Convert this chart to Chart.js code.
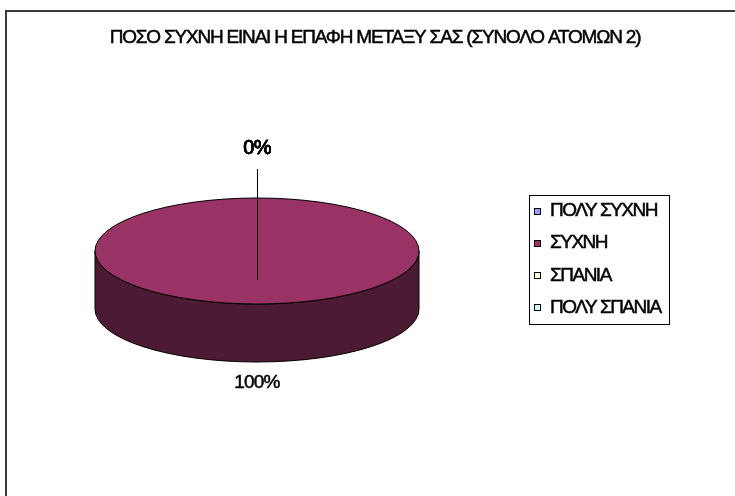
<!DOCTYPE html>
<html>
<head>
<meta charset="utf-8">
<script src="https://cdn.jsdelivr.net/npm/chart.js@4.4.0/dist/chart.umd.min.js"></script>
<style>
  html, body { margin: 0; padding: 0; background: #fff; overflow: hidden; }
  #frame { position: absolute; left: 5px; top: 10px; width: 760px; height: 520px;
           border-left: 2px solid #3c3c3c; border-top: 2px solid #3c3c3c; }
  #wrap { position: absolute; left: 0; top: 0; width: 735px; height: 496px; }
</style>
</head>
<body>
<div id="frame"></div>
<div id="wrap"><canvas id="piechart"></canvas></div>
<script>
const title_text = "ΠΟΣΟ ΣΥΧΝΗ ΕΙΝΑΙ Η ΕΠΑΦΗ ΜΕΤΑΞΥ ΣΑΣ (ΣΥΝΟΛΟ ΑΤΟΜΩΝ 2)";
const categories = ["ΠΟΛΥ ΣΥΧΝΗ", "ΣΥΧΝΗ", "ΣΠΑΝΙΑ", "ΠΟΛΥ ΣΠΑΝΙΑ"];
const answers = [0, 2, 0, 0];
const slice_colors = ["#9999ff", "#993366", "#ffffcc", "#ccffff"];

const FAMILY = "'Liberation Sans', Arial, sans-serif";
const TILT = 53 / 162;   // squash of the pie top
const DEPTH = 58;        // thickness of the pie

function darken(hex) {
  const n = parseInt(hex.slice(1), 16);
  const r = Math.round(((n >> 16) & 255) / 2);
  const g = Math.round(((n >> 8) & 255) / 2);
  const b = Math.round((n & 255) / 2);
  return "rgb(" + r + "," + g + "," + b + ")";
}

// tight, heavy text like the old office charts
function tightText(ctx, text, x, y, spacing) {
  ctx.save();
  ctx.letterSpacing = spacing + "px";
  ctx.lineWidth = 0.5;
  ctx.strokeStyle = ctx.fillStyle;
  ctx.fillText(text, x, y);
  ctx.strokeText(text, x, y);
  ctx.restore();
}

const pie3d = {
  id: "pie3d",
  beforeDatasetsDraw(chart) {
    const ctx = chart.ctx;
    const arcs = chart.getDatasetMeta(0).data;
    // front walls first
    arcs.forEach((arc, i) => {
      const s = arc.startAngle, e = arc.endAngle;
      if (e - s <= 0) return;
      const ry = arc.outerRadius * TILT;
      [-2 * Math.PI, 0, 2 * Math.PI].forEach(n => {
        const lo = Math.max(s, n), hi = Math.min(e, n + Math.PI);
        if (hi <= lo) return;
        ctx.beginPath();
        ctx.ellipse(arc.x, arc.y, arc.outerRadius, ry, 0, lo, hi);
        ctx.ellipse(arc.x, arc.y + DEPTH, arc.outerRadius, ry, 0, hi, lo, true);
        ctx.closePath();
        ctx.fillStyle = darken(slice_colors[i]);
        ctx.fill();
        ctx.lineWidth = 1;
        ctx.strokeStyle = "#000";
        ctx.stroke();
      });
    });
    // top face gets squashed
    const a = arcs[0];
    ctx.save();
    ctx.translate(a.x, a.y);
    ctx.scale(1, TILT);
    ctx.translate(-a.x, -a.y);
  },
  afterDatasetsDraw(chart) {
    const ctx = chart.ctx;
    ctx.restore();
    const arcs = chart.getDatasetMeta(0).data;
    const total = answers.reduce((p, v) => p + v, 0);
    arcs.forEach(arc => {
      const s = arc.startAngle, e = arc.endAngle;
      if (e - s <= 0) return;
      ctx.beginPath();
      ctx.ellipse(arc.x, arc.y, arc.outerRadius, arc.outerRadius * TILT, 0, s, e);
      if (e - s < 2 * Math.PI - 1e-6) { ctx.lineTo(arc.x, arc.y); ctx.closePath(); }
      ctx.lineWidth = 1;
      ctx.strokeStyle = "#000";
      ctx.stroke();
    });
    // percentage labels
    ctx.fillStyle = "#000";
    ctx.textAlign = "center";
    ctx.textBaseline = "middle";
    arcs.forEach((arc, i) => {
      const mid = (arc.startAngle + arc.endAngle) / 2;
      const c = Math.cos(mid), sn = Math.sin(mid);
      const ry = arc.outerRadius * TILT;
      const gap = answers[i] === 0 ? 50 : 21;
      const lx = arc.x + (arc.outerRadius + gap) * c;
      const ly = arc.y + (ry + gap) * sn + (sn > 0 ? DEPTH : 0);
      if (answers[i] === 0) {
        ctx.beginPath();
        ctx.moveTo(Math.round(lx) + 0.5, ly + 21);
        ctx.lineTo(Math.round(arc.x) + 0.5, arc.y + DEPTH / 2);
        ctx.lineWidth = 1;
        ctx.strokeStyle = "#000";
        ctx.stroke();
      }
      ctx.font = (answers[i] === 0 ? "20px " : "19px ") + FAMILY;
      const pct = Math.round(answers[i] / total * 100) + "%";
      tightText(ctx, pct, lx, ly, -0.8);
    });
  },
  afterDraw(chart) {
    const ctx = chart.ctx;
    ctx.save();
    // title
    ctx.font = "19px " + FAMILY;
    ctx.fillStyle = "#000";
    ctx.textAlign = "center";
    ctx.textBaseline = "middle";
    tightText(ctx, title_text, 375, 38, -1.2);
    // legend
    const lx = 529, ly = 195, lw = 140, pad = 16, row = 32.2;
    const lh = pad * 2 + row * (categories.length - 1);
    ctx.lineWidth = 1;
    ctx.strokeStyle = "#000";
    ctx.strokeRect(lx + 0.5, ly + 0.5, lw, Math.round(lh));
    ctx.textAlign = "left";
    categories.forEach((name, i) => {
      const y = ly + pad + i * row;
      const by = Math.round(y - 3.5);
      ctx.fillStyle = slice_colors[i];
      ctx.fillRect(534, by, 7, 7);
      ctx.lineWidth = 1;
      ctx.strokeStyle = "#000";
      ctx.strokeRect(534.5, by + 0.5, 6, 6);
      ctx.fillStyle = "#000";
      tightText(ctx, name, 550, y, -1.5);
    });
    ctx.restore();
  }
};

new Chart("piechart", {
  type: "pie",
  data: {
    labels: categories,
    datasets: [{
      data: answers,
      backgroundColor: slice_colors,
      borderWidth: 0,
      hoverOffset: 0
    }]
  },
  options: {
    responsive: true,
    maintainAspectRatio: false,
    animation: false,
    events: [],
    layout: { padding: { left: 95, right: 316, top: 89, bottom: 83 } },
    plugins: {
      legend: { display: false },
      title: { display: false },
      tooltip: { enabled: false }
    }
  },
  plugins: [pie3d]
});
</script>
</body>
</html>
